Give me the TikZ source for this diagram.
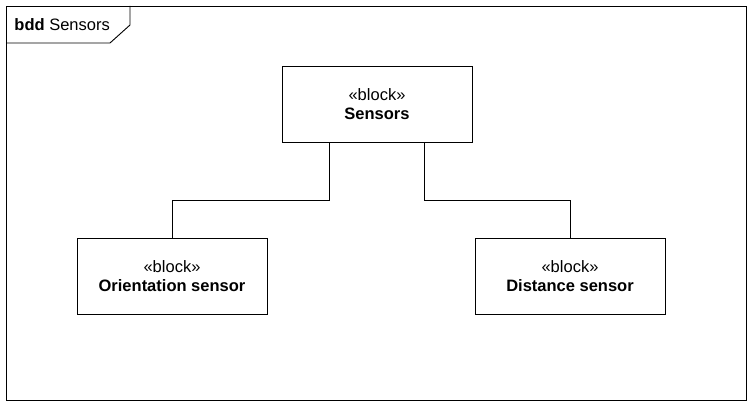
\documentclass[tikz,border=0pt]{standalone}
\usepackage{fontspec}
\setmainfont{Liberation Sans}
\usepackage{tikz}
\usetikzlibrary{positioning}

\begin{document}
\begin{tikzpicture}[x=1pt, y=-1pt, line width=0.9pt,
  every node/.style={font=\fontsize{16.5}{19.5}\selectfont},
  block/.style={draw, align=center, minimum width=190pt, minimum height=76pt, inner sep=0pt},
  conn/.style={draw}
]
\useasboundingbox (0,0) rectangle (752,406);
% frame
\draw (6,6) rectangle (746,400);
\draw (6,43) -- (110,43) -- (130,25) -- (130,6);
\node[anchor=west, inner sep=0pt] (frametitle) at (14,24.5) {\textbf{bdd} Sensors};
% blocks
\node[block] (sensors) at (377,104) {«block»\\\textbf{Sensors}};
\node[block] (orient) at (172,276) {«block»\\\textbf{Orientation sensor}};
\node[block] (dist) at (570,276) {«block»\\\textbf{Distance sensor}};
% connectors
\draw[conn] ([xshift=-48pt]sensors.south) -- ++(0,58) -| (orient.north);
\draw[conn] ([xshift=47pt]sensors.south) -- ++(0,58) -| (dist.north);
\end{tikzpicture}
\end{document}
